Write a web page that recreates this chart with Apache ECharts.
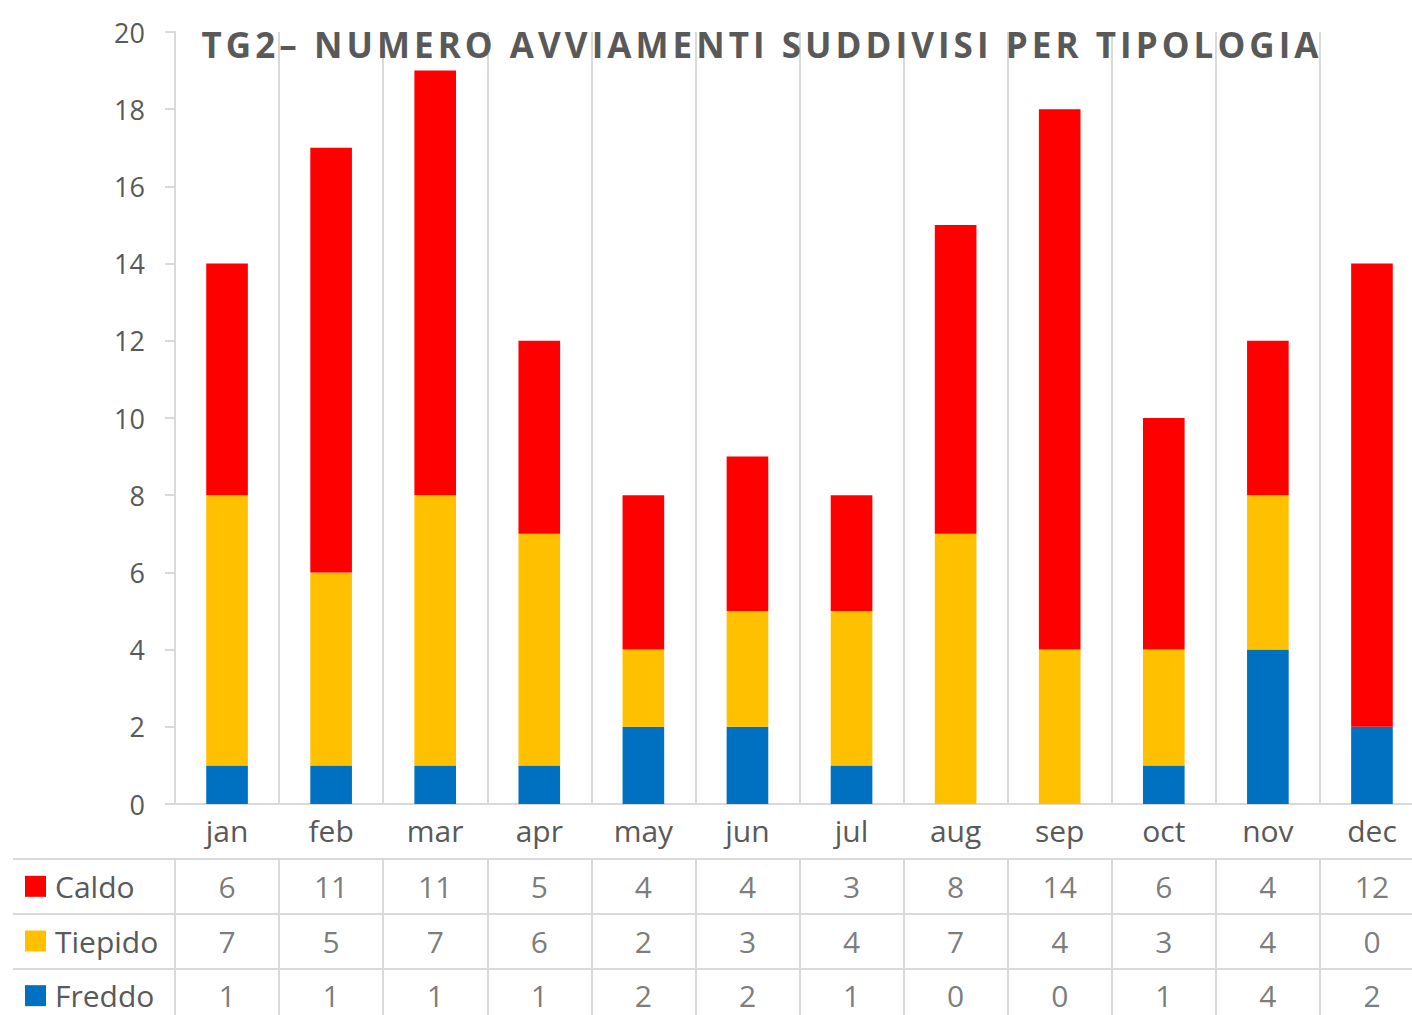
<!DOCTYPE html>
<html>
<head>
<meta charset="utf-8">
<title>TG2 avviamenti</title>
<script src="https://cdn.jsdelivr.net/npm/echarts@6/dist/echarts.min.js"></script>
<style>
    html, body { margin: 0; padding: 0; background: #fff; }
    #tg2-echart { width: 1412px; height: 1015px; }
    /* spaziatura lettere del titolo */
    #tg2-echart text[style*="bold"] { letter-spacing: 4.05px; }
</style>
</head>
<body>
<div id="tg2-echart"></div>
<script>
var mesi = ['jan', 'feb', 'mar', 'apr', 'may', 'jun', 'jul', 'aug', 'sep', 'oct', 'nov', 'dec'];
var caldo = [6, 11, 11, 5, 4, 4, 3, 8, 14, 6, 4, 12];
var tiepido = [7, 5, 7, 6, 2, 3, 4, 7, 4, 3, 4, 0];
var freddo = [1, 1, 1, 1, 2, 2, 1, 0, 0, 1, 4, 2];
var righe = ['Caldo', 'Tiepido', 'Freddo'];
var yTicks = [0, 2, 4, 6, 8, 10, 12, 14, 16, 18, 20];

var colori = {Caldo: '#FF0000', Tiepido: '#FFC000', Freddo: '#0070C0'};
var grigio = '#595959';
var linea = '#D9D9D9';
var font = 'Open Sans';

window.onload = function () {
    initChart();
};

//celle della tabella
function tableData() {
    var valori = {Caldo: caldo, Tiepido: tiepido, Freddo: freddo};
    var out = [];
    for (var r = 0; r < righe.length; r++) {
        for (var i = 0; i < mesi.length; i++) {
            out.push([mesi[i], righe[r], valori[righe[r]][i]]);
        }
    }
    return out;
}

function barSeries(name, data) {
    return {
        name: name,
        type: 'bar',
        stack: 'tot',
        barWidth: '40%',
        data: data,
        itemStyle: {color: colori[name]},
        silent: true
    };
}

function initChart() {
    var option = {
        animation: false,
        title: {
            text: 'TG2– NUMERO AVVIAMENTI SUDDIVISI PER TIPOLOGIA',
            left: 757,
            top: 22,
            textAlign: 'center',
            textStyle: {fontFamily: font, fontSize: 35, fontWeight: 'bold', color: grigio}
        },
        grid: [
            {left: 175, top: 32, width: 1249, height: 772, outerBoundsMode: 'none'},
            {left: 175, top: 859, width: 1249, height: 164, outerBoundsMode: 'none'}
        ],
        xAxis: [
            {
                type: 'category',
                gridIndex: 0,
                data: mesi,
                axisLine: {lineStyle: {color: linea, width: 2}},
                axisTick: {length: 55, lineStyle: {color: linea, width: 2}},
                axisLabel: {fontFamily: font, fontSize: 30, color: grigio, margin: 11},
                splitLine: {show: true, lineStyle: {color: linea, width: 2}}
            },
            {
                type: 'category',
                gridIndex: 1,
                position: 'top',
                data: mesi,
                axisLine: {lineStyle: {color: linea, width: 2}},
                axisTick: {show: false},
                axisLabel: {show: false},
                splitLine: {show: true, lineStyle: {color: linea, width: 2}}
            }
        ],
        yAxis: [
            {
                type: 'value',
                gridIndex: 0,
                min: yTicks[0],
                max: yTicks[yTicks.length - 1],
                interval: 2,
                axisLine: {show: true, lineStyle: {color: linea, width: 2}},
                axisTick: {show: true, length: 10, lineStyle: {color: linea, width: 2}},
                axisLabel: {fontFamily: font, fontSize: 27, color: grigio, margin: 30},
                splitLine: {show: false}
            },
            {
                type: 'category',
                gridIndex: 1,
                inverse: true,
                data: righe,
                axisLine: {show: true, lineStyle: {color: linea, width: 2}},
                axisTick: {show: true, length: 162, lineStyle: {color: linea, width: 2}},
                axisLabel: {
                    align: 'left',
                    margin: 150,
                    formatter: function (v) {
                        return '{' + v + '|}{t|' + v + '}';
                    },
                    rich: {
                        Caldo: {width: 21, height: 21, backgroundColor: colori.Caldo},
                        Tiepido: {width: 21, height: 21, backgroundColor: colori.Tiepido},
                        Freddo: {width: 21, height: 21, backgroundColor: colori.Freddo},
                        t: {fontFamily: font, fontSize: 30, color: grigio, padding: [0, 0, 0, 9]}
                    }
                },
                splitLine: {show: true, lineStyle: {color: linea, width: 2}}
            },
            {
                // bordo sinistro della tabella
                type: 'category',
                gridIndex: 1,
                data: righe,
                offset: 162,
                axisLine: {show: true, lineStyle: {color: linea, width: 2}},
                axisTick: {show: false},
                axisLabel: {show: false}
            }
        ],
        series: [
            barSeries('Freddo', freddo),
            barSeries('Tiepido', tiepido),
            barSeries('Caldo', caldo),
            {
                name: 'tabella',
                type: 'scatter',
                xAxisIndex: 1,
                yAxisIndex: 1,
                symbolSize: 1,
                itemStyle: {color: 'rgba(0,0,0,0)'},
                silent: true,
                data: tableData(),
                label: {
                    show: true,
                    position: 'inside',
                    fontFamily: font,
                    fontSize: 30,
                    color: grigio,
                    formatter: function (p) {
                        return p.value[2];
                    }
                }
            }
        ]
    };

    var chart = echarts.init(document.getElementById('tg2-echart'), null, {renderer: 'svg'});
    chart.setOption(option);
}
</script>
</body>
</html>
